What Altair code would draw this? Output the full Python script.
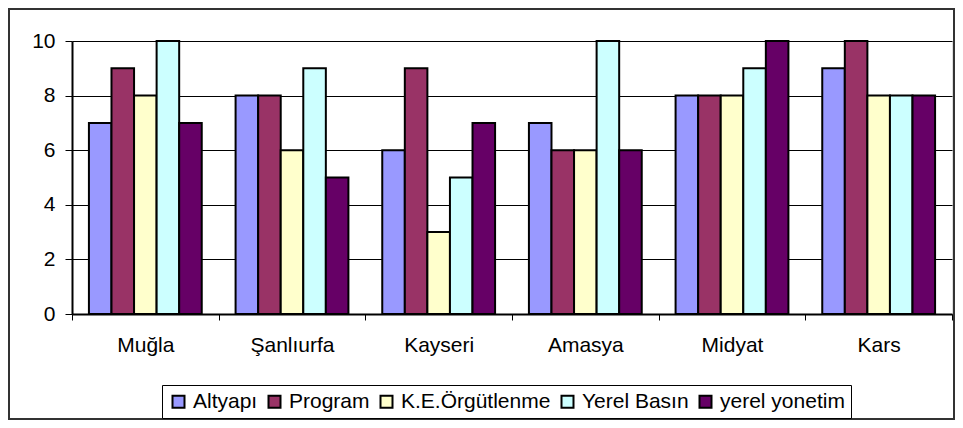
import altair as alt
import pandas as pd

cities = ["Muğla", "Şanlıurfa", "Kayseri", "Amasya", "Midyat", "Kars"]
series = ["Altyapı", "Program", "K.E.Örgütlenme", "Yerel Basın", "yerel yonetim"]
colors = ["#9999FF", "#993366", "#FFFFCC", "#CCFFFF", "#660066"]

altyapi = [7, 8, 6, 7, 8, 9]
program = [9, 8, 9, 6, 8, 10]
ke_orgutlenme = [8, 6, 3, 6, 8, 8]
yerel_basin = [10, 9, 5, 10, 9, 8]
yerel_yonetim = [7, 5, 7, 6, 10, 8]

y_ticks = [0, 2, 4, 6, 8, 10]

values = [altyapi, program, ke_orgutlenme, yerel_basin, yerel_yonetim]
rows = []
for s, vals in zip(series, values):
    for c, v in zip(cities, vals):
        rows.append({"city": c, "series": s, "value": v})
df = pd.DataFrame(rows)

FONT = "Liberation Sans"
FS = 21

bars = alt.Chart(df).mark_bar(stroke="black", strokeWidth=2).encode(
    x=alt.X("city:N", sort=cities, title=None,
            scale=alt.Scale(paddingInner=0, paddingOuter=0),
            axis=alt.Axis(labelAngle=0, tickBand="extent", domainColor="black",
                          domainWidth=2, tickColor="black", tickSize=6,
                          labelFontSize=FS, labelPadding=14, labelFont=FONT,
                          labelColor="black")),
    xOffset=alt.XOffset("series:N", sort=series,
                        scale=alt.Scale(paddingInner=0, paddingOuter=0.75)),
    y=alt.Y("value:Q", title=None,
            scale=alt.Scale(domain=[0, 10], nice=False),
            axis=alt.Axis(values=y_ticks, grid=True, gridColor="black", gridWidth=1,
                          domainColor="black", domainWidth=2, tickColor="black",
                          tickSize=7, labelPadding=10, labelFontSize=FS,
                          labelFont=FONT, labelColor="black")),
    color=alt.Color("series:N", sort=series,
                    scale=alt.Scale(domain=series, range=colors),
                    legend=alt.Legend(title=None, orient="none", legendX=90, legendY=344,
                                      direction="horizontal", columns=5,
                                      strokeColor="black", fillColor="white",
                                      padding=6, symbolType="square", symbolSize=144,
                                      symbolStrokeColor="black", symbolStrokeWidth=2,
                                      labelFontSize=FS, labelFont=FONT,
                                      labelColor="black", columnPadding=6,
                                      labelOffset=4)),
)

border = alt.Chart(pd.DataFrame({"a": [0]})).mark_rect(
    fill=None, stroke="#333333", strokeWidth=2
).encode(
    x=alt.value(-63), x2=alt.value(882), y=alt.value(-32), y2=alt.value(378)
)

chart = alt.layer(bars, border).properties(
    width=880, height=273,
    autosize=alt.AutoSizeParams(type="none"),
    padding={"left": 64, "top": 33, "right": 3, "bottom": 106},
).configure_view(
    fill="#C0C0C0", stroke="#808080", strokeWidth=2
).configure(background="white")

chart.save("out.html", embed_options={"renderer": "svg", "actions": False})
